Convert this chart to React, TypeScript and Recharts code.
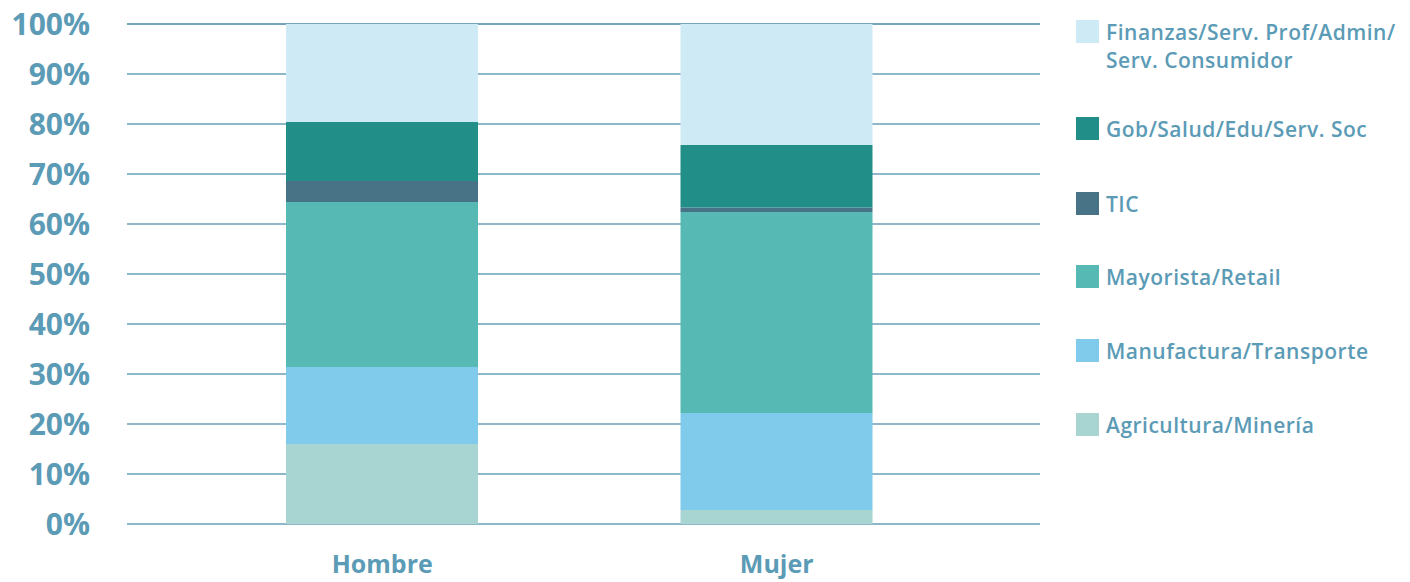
import React from "react";
import { BarChart, Bar, XAxis, YAxis, CartesianGrid } from "recharts";

const categories = ["Hombre", "Mujer"];
const agricultura = [16.0, 2.8];
const manufactura = [15.4, 19.4];
const mayorista = [33.0, 40.2];
const tic = [4.2, 0.9];
const gobierno = [11.8, 12.5];
const finanzas = [19.6, 24.2];
const yTicks = [0, 10, 20, 30, 40, 50, 60, 70, 80, 90, 100];

const series = [
  { key: "agricultura", name: "Agricultura/Minería", color: "#a8d4d1", values: agricultura },
  { key: "manufactura", name: "Manufactura/Transporte", color: "#80cbec", values: manufactura },
  { key: "mayorista", name: "Mayorista/Retail", color: "#57b9b3", values: mayorista },
  { key: "tic", name: "TIC", color: "#487285", values: tic },
  { key: "gobierno", name: "Gob/Salud/Edu/Serv. Soc", color: "#218f87", values: gobierno },
  { key: "finanzas", name: "Finanzas/Serv. Prof/Admin/\nServ. Consumidor", color: "#cdeaf5", values: finanzas },
];

const data = categories.map((name, i) => {
  const row: Record<string, string | number> = { name };
  series.forEach((s) => (row[s.key] = s.values[i]));
  return row;
});

const TEXT = "#5b9bb6";
const FONT = "'Open Sans', 'DejaVu Sans', sans-serif";

// legend slots, top to bottom, matching the original spacing
const legendTops = [20, 117, 192, 265, 339, 413];

const LegendBox = () => {
  const items = [...series].reverse();
  return (
    <div style={{ position: "absolute", left: 1076, top: 0, width: 334, height: 450 }}>
      {items.map((s, i) => (
        <div key={s.key} style={{ position: "absolute", left: 0, top: legendTops[i], display: "flex" }}>
          <div style={{ width: 23, height: 23, background: s.color, flex: "none" }} />
          <div
            style={{
              marginLeft: 7,
              marginTop: -2,
              color: TEXT,
              fontFamily: FONT,
              fontWeight: 600,
              fontSize: 21,
              lineHeight: "28px",
              whiteSpace: "pre",
              letterSpacing: 0.5,
            }}
          >
            {s.name}
          </div>
        </div>
      ))}
    </div>
  );
};

export default function App() {
  return (
    <div style={{ position: "absolute", left: 0, top: 0, width: 1410, height: 582, background: "#fff" }}>
      <BarChart width={1410} height={582} data={data} margin={{ top: 24, right: 370, bottom: 0, left: 0 }}>
        <CartesianGrid vertical={false} stroke="#6a9fb8" strokeWidth={1.5} />
        <XAxis
          dataKey="name"
          axisLine={false}
          tickLine={false}
          height={58}
          padding={{ left: 58, right: 66 }}
          tickMargin={25}
          tick={{ fill: TEXT, fontSize: 25, fontWeight: 700, fontFamily: FONT }}
        />
        <YAxis
          domain={[0, 100]}
          ticks={yTicks}
          width={127}
          axisLine={false}
          tickLine={false}
          tickMargin={31}
          tickFormatter={(v) => `${v}%`}
          tick={{ fill: TEXT, fontSize: 30, fontWeight: 700, fontFamily: FONT }}
        />
        {series.map((s) => (
          <Bar
            key={s.key}
            dataKey={s.key}
            name={s.name}
            stackId="a"
            fill={s.color}
            barSize={192}
            isAnimationActive={false}
          />
        ))}
      </BarChart>
      <LegendBox />
    </div>
  );
}
